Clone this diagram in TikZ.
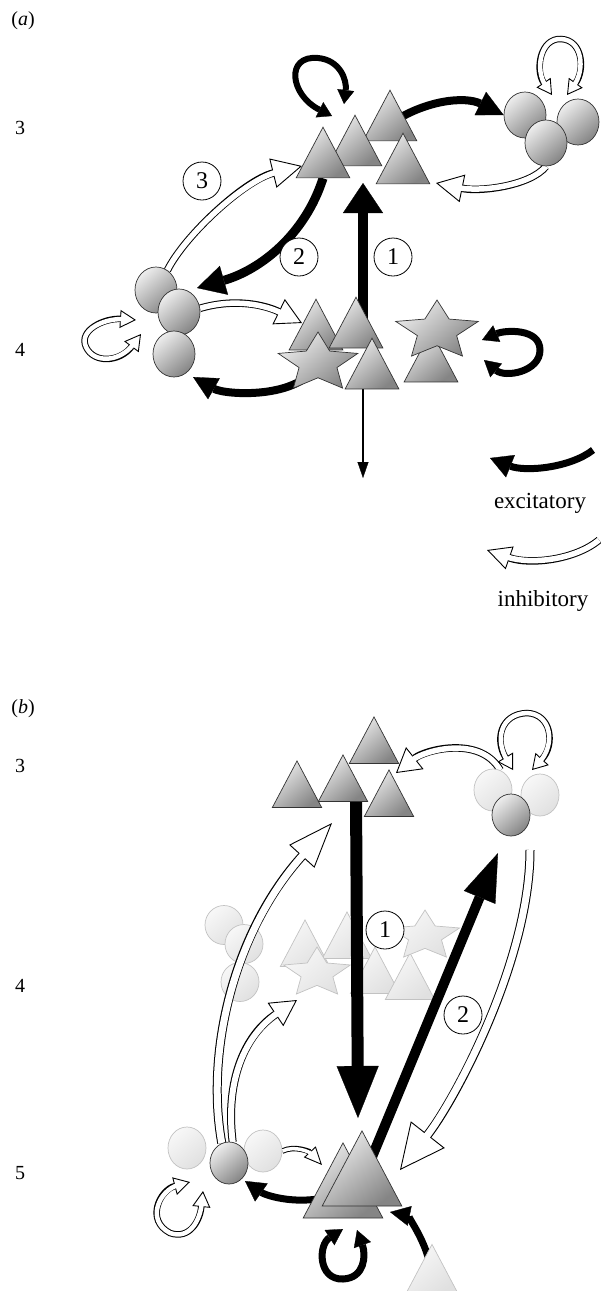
\documentclass[tikz,border=0pt]{standalone}
\usepackage{fontspec}
\setmainfont{Liberation Serif}
\usetikzlibrary{shapes.geometric,arrows.meta}

\definecolor{cellhi}{gray}{0.93}
\definecolor{celllo}{gray}{0.52}
\definecolor{ghosthi}{gray}{0.97}
\definecolor{ghostlo}{gray}{0.88}
\definecolor{ghostline}{gray}{0.76}

\pgfdeclarelayer{ghostlayer}
\pgfdeclarelayer{linklayer}
\pgfsetlayers{ghostlayer,linklayer,main}

\tikzset{
  solidcell/.style={draw=black!80, line width=0.7pt, top color=cellhi, bottom color=celllo, shading angle=40},
  ghost/.style={draw=ghostline, line width=0.7pt, top color=ghosthi, bottom color=ghostlo, shading angle=40},
  pyr/.style={regular polygon, regular polygon sides=3, inner sep=0pt, minimum size=#1, yscale=1.09},
  ball/.style 2 args={ellipse, inner sep=0pt, minimum width=#1, minimum height=#2},
  spark/.style 2 args={star, star points=5, star point ratio=2.1, inner sep=0pt, minimum size=#1, xscale=#2},
  exc/.style n args={3}{line width=#1, -{Triangle[length=#2, width=#3, line width=0.3pt]}},
  exctwo/.style n args={3}{line width=#1,
    {Triangle[length=#2, width=#3, line width=0.3pt]}-{Triangle[length=#2, width=#3, line width=0.3pt]}},
  inh/.style n args={4}{draw=white, line width=#2, shorten >=#3-3pt,
    preaction={draw=black, line width=#1, shorten >=0pt,
      -{Triangle[length=#3, width=#4, line width=0.9pt, fill=white]}}},
  inhtwo/.style n args={4}{draw=white, line width=#2, shorten >=#3-3pt, shorten <=#3-3pt,
    preaction={draw=black, line width=#1, shorten >=0pt, shorten <=0pt,
      {Triangle[length=#3, width=#4, line width=0.9pt, fill=white]}-{Triangle[length=#3, width=#4, line width=0.9pt, fill=white]}}},
  num/.style={circle, draw, line width=0.8pt, fill=white, minimum size=38pt, inner sep=0pt, font=\fontsize{24}{24}\selectfont},
  lay/.style={font=\fontsize{20}{20}\selectfont},
  key/.style={font=\fontsize{23}{23}\selectfont}
}

\begin{document}
\begin{tikzpicture}[x=1pt, y=-1pt]
  \useasboundingbox (0,0) rectangle (600,1291);

  % (a)
  \node[lay] (pa) at (23,21) {(\textit{a})};
  \node[lay] (rowa3) at (20,128) {3};
  \node[lay] (rowa4) at (20,350) {4};

  \node[pyr=62pt, solidcell] (A3) at (390,124) {};
  \node[pyr=62pt, solidcell] (A2) at (355,149) {};
  \node[pyr=62pt, solidcell] (A4) at (403,167) {};
  \node[pyr=62pt, solidcell] (A1) at (323,161) {};

  \node[ball={42pt}{46pt}, solidcell] (R1) at (525,115) {};
  \node[ball={42pt}{46pt}, solidcell] (R2) at (578,122) {};
  \node[ball={42pt}{46pt}, solidcell] (R3) at (546,143) {};

  \node[ball={42pt}{46pt}, solidcell] (L1) at (156,290) {};
  \node[ball={42pt}{46pt}, solidcell] (L2) at (179,312) {};
  \node[ball={42pt}{46pt}, solidcell] (L3) at (174,354) {};

  \node[pyr=62pt, solidcell] (B1) at (316,333) {};
  \node[pyr=62pt, solidcell] (B2) at (356,331) {};
  \node[spark={62pt}{1.35}, solidcell] (S1) at (318,363) {};
  \node[pyr=62pt, solidcell] (B3) at (372,372) {};
  \node[pyr=62pt, solidcell] (B4) at (431,365) {};
  \node[spark={62pt}{1.4}, solidcell] (S2) at (437,331) {};

  \node[num] (n3) at (202,181) {3};
  \node[num] (n2) at (299,257) {2};
  \node[num] (n1) at (393,257) {1};

  \coordinate (ia1) at (436,183);
  \coordinate (la1) at (332,116);
  \coordinate (la2) at (344,104);
  \coordinate (lr1) at (552,95);
  \coordinate (lr2) at (567,95);
  \coordinate (ca1) at (363,330);
  \coordinate (ta1) at (363,183);
  \coordinate (tdown) at (363,478);
  \coordinate (ta2) at (197,288);
  \coordinate (ta3) at (302,166);
  \coordinate (tb1) at (302,323);
  \coordinate (tl3) at (193,377);
  \coordinate (ll1) at (136,320);
  \coordinate (ll2) at (141,334);
  \coordinate (ls1) at (482,340);
  \coordinate (ls2) at (484,360);

  \begin{pgfonlayer}{linklayer}
    \draw[exc={8pt}{26pt}{26pt}] (A3.center) .. controls (425,100) and (465,96) .. (R1.west);
    \draw[inh={7.5pt}{5.5pt}{27pt}{28pt}] (R3.south) .. controls (530,186) and (480,192) .. (ia1);
    \draw[exctwo={6pt}{14pt}{17pt}] (la1) .. controls (290,95) and (285,55) .. (318,58) .. controls (340,60) and (347,80) .. (la2);
    \draw[inhtwo={6.5pt}{4.5pt}{15pt}{17pt}] (lr1) .. controls (535,70) and (540,38) .. (561,39) .. controls (583,40) and (585,70) .. (lr2);
    \draw[exc={10pt}{30pt}{40pt}] (ca1) -- (ta1);
    \draw[exc={1.8pt}{16pt}{11pt}] (B3.south -| ca1) -- (tdown);
    \draw[exc={9pt}{28pt}{30pt}] (A1.south) .. controls (305,235) and (260,270) .. (ta2);
    \draw[inh={7.5pt}{5.5pt}{30pt}{30pt}] (L1.60) .. controls (185,235) and (245,180) .. (ta3);
    \draw[inh={7.5pt}{5.5pt}{26pt}{28pt}] (L2.10) .. controls (235,298) and (265,305) .. (tb1);
    \draw[exc={8pt}{24pt}{24pt}] (S1.center) .. controls (300,400) and (225,395) .. (tl3);
    \draw[inhtwo={6.5pt}{4.5pt}{16pt}{18pt}] (ll1) .. controls (105,318) and (78,330) .. (86,347) .. controls (94,364) and (120,362) .. (ll2);
    \draw[exctwo={7pt}{16pt}{18pt}] (ls1) .. controls (505,330) and (540,328) .. (540,350) .. controls (540,372) and (505,378) .. (ls2);
  \end{pgfonlayer}

  % key
  \coordinate (kx1) at (593,450);
  \coordinate (kx2) at (490,458);
  \coordinate (ki1) at (599,540);
  \coordinate (ki2) at (487,550);
  \draw[exc={7pt}{22pt}{24pt}] (kx1) .. controls (570,468) and (525,472) .. (kx2);
  \node[key] (kexc) at (540,503) {excitatory};
  \draw[inh={7.5pt}{5.5pt}{24pt}{24pt}] (ki1) .. controls (575,560) and (530,565) .. (ki2);
  \node[key] (kinh) at (543,601) {inhibitory};

  % (b)
  \node[lay] (pb) at (23,709) {(\textit{b})};
  \node[lay] (rowb3) at (20,766) {3};
  \node[lay] (rowb4) at (20,986) {4};
  \node[lay] (rowb5) at (20,1173) {5};

  \begin{pgfonlayer}{ghostlayer}
    \node[ball={38pt}{39pt}, ghost] (F1) at (224,925) {};
    \node[ball={38pt}{39pt}, ghost] (F2) at (244,944) {};
    \node[ball={38pt}{39pt}, ghost] (F3) at (240,982) {};
    \node[pyr=57pt, ghost] (G1) at (305,951) {};
    \node[pyr=57pt, ghost] (G2) at (347,943) {};
    \node[spark={52pt}{1.35}, ghost] (H1) at (317,973) {};
    \node[pyr=57pt, ghost] (G3) at (375,978) {};
    \node[pyr=57pt, ghost] (G4) at (410,984) {};
    \node[spark={52pt}{1.4}, ghost] (H2) at (425,936) {};
  \end{pgfonlayer}

  \node[pyr=57pt, solidcell] (P3) at (374,748) {};
  \node[pyr=57pt, solidcell] (P1) at (297,792) {};
  \node[pyr=57pt, solidcell] (P2) at (343,786) {};
  \node[pyr=57pt, solidcell] (P4) at (389,801) {};

  \node[ball={38pt}{42pt}, ghost] (Q1) at (493,790) {};
  \node[ball={38pt}{42pt}, ghost] (Q2) at (540,795) {};
  \node[ball={38pt}{42pt}, solidcell] (Q3) at (511,815) {};

  \node[ball={38pt}{42pt}, ghost] (E1) at (187,1148) {};
  \node[ball={38pt}{42pt}, ghost] (E3) at (263,1151) {};
  \node[ball={38pt}{42pt}, solidcell] (E2) at (229,1163) {};

  \node[pyr=92pt, solidcell] (K1) at (343,1193) {};
  \node[pyr=92pt, solidcell] (K2) at (362,1181) {};
  \node[pyr=58pt, ghost] (Tz) at (432,1276) {};

  \node[num] (m1) at (385,930) {1};
  \node[num] (m2) at (463,1015) {2};

  \coordinate (tp4) at (396,773);
  \coordinate (lq1) at (513,770);
  \coordinate (lq2) at (532,770);
  \coordinate (cb1) at (356,796);
  \coordinate (tk) at (358,1118);
  \coordinate (tq3) at (498,853);
  \coordinate (sq3) at (530,850);
  \coordinate (tk2) at (400,1170);
  \coordinate (tp1) at (332,823);
  \coordinate (tg1) at (297,1000);
  \coordinate (tk1) at (322,1165);
  \coordinate (te2) at (245,1181);
  \coordinate (lk1) at (343,1229);
  \coordinate (lk2) at (357,1230);
  \coordinate (tk3) at (390,1212);
  \coordinate (le1) at (190,1182);
  \coordinate (le2) at (203,1191);

  \begin{pgfonlayer}{linklayer}
    \draw[inh={7.5pt}{5.5pt}{24pt}{28pt}] (Q1.70) .. controls (480,735) and (425,750) .. (tp4);
    \draw[inhtwo={6.5pt}{4.5pt}{15pt}{18pt}] (lq1) .. controls (495,740) and (500,714) .. (527,713) .. controls (552,714) and (555,745) .. (lq2);
    \draw[exc={12pt}{52pt}{42pt}] (cb1) -- (tk);
    \draw[exc={10pt}{48pt}{34pt}] (K2.center) -- (tq3);
    \draw[inh={9pt}{7pt}{45pt}{43pt}] (sq3) .. controls (530,960) and (455,1100) .. (tk2);
    \draw[inh={9pt}{7pt}{45pt}{34pt}] (E2.110) .. controls (205,1050) and (235,930) .. (tp1);
    \draw[inh={8pt}{6pt}{26pt}{28pt}] (E2.80) .. controls (225,1080) and (245,1035) .. (tg1);
    \draw[inh={5.5pt}{3.5pt}{18pt}{16pt}] (E3.east) .. controls (295,1145) and (310,1152) .. (tk1);
    \draw[exc={7pt}{20pt}{22pt}] (K1.center) .. controls (300,1208) and (265,1195) .. (te2);
    \draw[exctwo={7pt}{16pt}{18pt}] (lk1) .. controls (318,1245) and (318,1280) .. (343,1279) .. controls (365,1278) and (366,1255) .. (lk2);
    \draw[exc={7pt}{20pt}{20pt}] (Tz.center) .. controls (428,1240) and (405,1215) .. (tk3);
    \draw[inhtwo={6.5pt}{4.5pt}{16pt}{18pt}] (le1) .. controls (160,1190) and (145,1220) .. (170,1233) .. controls (190,1240) and (200,1220) .. (le2);
  \end{pgfonlayer}
\end{tikzpicture}
\end{document}
